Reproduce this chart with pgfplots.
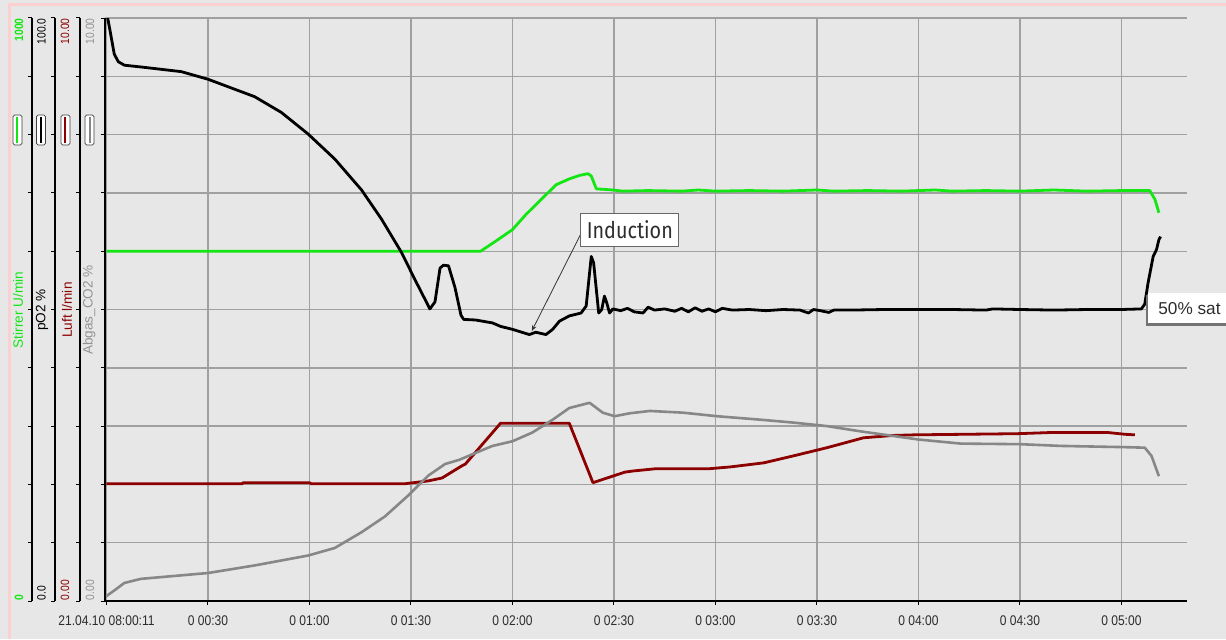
\documentclass[border=0pt]{standalone}
\usepackage{pgfplots}
\pgfplotsset{compat=1.18}
\usepackage{pgfplotstable}
\usepackage{fontspec}
\usetikzlibrary{arrows.meta}
\setmainfont{Liberation Sans}
\newfontfamily\narrowfont[FakeStretch=0.86]{Liberation Sans}
\newfontfamily\callfont[FakeStretch=0.86]{Fira Sans}

\definecolor{bg}{RGB}{231,231,231}
\definecolor{gridc}{RGB}{160,160,160}
\definecolor{stirc}{RGB}{20,230,20}
\definecolor{luftc}{RGB}{140,0,0}
\definecolor{co2c}{RGB}{135,135,135}
\definecolor{pinkc}{RGB}{250,208,208}
\definecolor{txt}{RGB}{45,45,45}

% time in minutes after 08:00:11
\pgfplotstableread{
t v
0 600
110.6 600
115 617
120 637
124 663
128.9 691
132.9 714
136.8 724
139.8 730
142.3 733
143.3 729
144.8 707
149.7 705
152.6 703
160 704
170 703
175 705
180 703
190 704
200 703
210 705
215 703
225 704
235 703
245 705
250 703
260 704
270 703
280 705
290 703
300 704
308.4 704
309.9 689
311.1 666
}\stirrer

\pgfplotstableread{
t v
0 100
0.35 100
1 98
2.3 93.8
3.5 92.5
5.3 91.9
10.2 91.6
22.1 90.8
30 89.5
43.8 86.5
51.7 83.8
59.6 80.1
67.5 75.8
75.4 70.5
81.3 65.5
87.2 59.8
91.2 55.1
95.6 50.1
97.1 51.3
98.6 57.1
99.6 57.6
101.1 57.5
103 53.8
104.8 49
105.6 48.3
109.1 48.2
114.1 47.7
116.5 47.1
120 46.6
125 45.7
126.9 46.1
129.9 45.7
131.9 46.6
133.9 48.0
136.8 48.9
140.3 49.4
141.8 50.6
142.5 54.6
143.3 59.1
144 58
144.8 53.4
145.5 49.4
146.4 50
147.2 52.3
147.9 51.1
148.7 49.4
149.7 50.1
152 49.8
154 50.2
156 49.6
158.6 49.4
160.1 50.4
162 49.9
165 50.1
168 49.7
170 50.2
172 49.6
174 50.3
176 49.7
178 50.1
180 49.6
182 50.2
185 49.9
190 50.0
195 49.8
200 50.0
205 49.9
207.5 49.4
209 50.0
211 49.8
213.5 49.5
215 49.9
220 49.9
230 50.0
250 50.0
260 49.9
262 50.1
270 50.0
280 49.9
290 50.0
300 50.0
305.9 50.1
306.9 50.9
307.9 54.6
309.4 59.1
310.4 60.3
311.1 62
311.6 62.5
}\potwo

\pgfplotstableread{
t v
0 2.01
40 2.01
40.5 2.03
60 2.03
60.5 2.01
88 2.01
95.1 2.06
99.2 2.11
104.8 2.31
106.1 2.35
116.5 3.05
136.8 3.05
143.8 2.03
153.2 2.21
155.6 2.23
162.6 2.27
178.4 2.27
184.4 2.30
194.3 2.37
203.1 2.49
213 2.63
223.8 2.80
232.7 2.84
238.7 2.85
269.3 2.87
279.2 2.89
296 2.89
301 2.86
304 2.85
}\luft

\pgfplotstableread{
t v
0 0.08
0.35 0.10
2.3 0.18
5.3 0.31
10.2 0.38
30 0.48
43.8 0.61
59.6 0.78
67.5 0.91
75.4 1.18
82.3 1.45
89.2 1.81
95.1 2.15
100.1 2.35
104.2 2.42
109.1 2.54
114.1 2.66
120 2.74
125.9 2.89
131.9 3.11
136.8 3.31
142.8 3.40
146.7 3.23
150.2 3.17
154.7 3.22
160.6 3.26
170.5 3.23
180.4 3.17
193.3 3.11
203.1 3.06
213 3.00
222.9 2.91
232.7 2.83
240 2.77
252.5 2.70
270 2.69
282.2 2.66
300.3 2.64
306.9 2.63
308.9 2.49
311.1 2.14
}\cotwo

\begin{document}
\begin{tikzpicture}
\fill[bg] (-52.5pt,-19pt) rectangle (560.5pt,300.5pt);
\draw[pinkc, line width=1.2pt] (-47.8pt,-19pt) -- (-47.8pt,298.3pt) -- (560.5pt,298.3pt);

\begin{axis}[
  scale only axis, width=541pt, height=291.5pt,
  xmin=-0.44, xmax=319.4, ymin=0, ymax=10,
  axis lines=left, axis line style={-, black, line width=0.6pt},
  xtick={0,30,...,300},
  xticklabels={21.04.10 08:00:11, 0 00:30, 0 01:00, 0 01:30, 0 02:00, 0 02:30,
    0 03:00, 0 03:30, 0 04:00, 0 04:30, 0 05:00},
  ytick={0,1,...,10}, yticklabels={},
  grid=major, grid style={gridc, line width=0.7pt},
  tick align=outside, major tick length=2pt,
  tick style={black, line width=0.5pt},
  xticklabel style={font=\narrowfont\fontsize{7}{8}\selectfont, text=txt, yshift=-2pt},
  line join=round,
]
\addplot[luftc, line width=1.4pt] table[x=t, y=v] {\luft};
\addplot[co2c, line width=1.3pt] table[x=t, y=v] {\cotwo};
\addplot[stirc, line width=1.4pt] table[x=t, y expr=\thisrow{v}/100] {\stirrer};
\addplot[black, line width=1.4pt] table[x=t, y expr=\thisrow{v}/10] {\potwo};

\draw[-{Stealth[length=3pt,open]}, line width=0.4pt, black!80] (axis cs:140.6,6.34) -- (axis cs:125.7,4.63);
\node[draw=black!60, fill=white, inner xsep=3pt, minimum height=16.5pt, text=txt,
  font=\callfont\fontsize{11.5}{12}\selectfont] at (axis cs:154.7,6.37) {Induction};
\end{axis}

% extra left axes
\foreach \xx in {-36.5pt,-25pt,-12.5pt} {
  \draw[black, line width=0.6pt] (\xx,0) -- (\xx,291.5pt);
  \foreach \k in {0,...,10} \draw[black, line width=0.5pt] (\xx,\k*29.15pt) -- ++(-2pt,0);
}
% scroll handles
\foreach \cx/\cc in {-43.75pt/stirc,-32pt/black,-19.75pt/luftc,-7.75pt/co2c} {
  \draw[fill=white, draw=black!75, line width=0.4pt, rounded corners=0.8pt]
    ([xshift=-2.25pt]\cx,228pt) rectangle ([xshift=2.25pt]\cx,243pt);
  \draw[\cc, line width=1pt] (\cx,229.2pt) -- (\cx,241.8pt);
}
% axis names
\node[rotate=90, inner sep=0, text=stirc, font=\fontsize{6.8}{8}\selectfont] at (-43.5pt,145.5pt) {Stirrer U/min};
\node[rotate=90, inner sep=0, text=black, font=\fontsize{6.8}{8}\selectfont] at (-31.5pt,145.5pt) {pO2 \%};
\node[rotate=90, inner sep=0, text=luftc, font=\fontsize{6.8}{8}\selectfont] at (-19pt,145.5pt) {Luft l/min};
\node[rotate=90, inner sep=0, text=co2c!90, font=\fontsize{6.8}{8}\selectfont] at (-8pt,145.5pt) {Abgas\_CO2 \%};
% axis limits
\begin{scope}[every node/.style={rotate=90, inner sep=0, font=\narrowfont\fontsize{6}{7}\selectfont}]
\node[anchor=east, text=stirc, font=\narrowfont\bfseries\fontsize{6}{7}\selectfont] at (-43pt,291.5pt) {1000};
\node[anchor=east, text=black] at (-31.75pt,291.5pt) {100.0};
\node[anchor=east, text=luftc] at (-20pt,291.5pt) {10.00};
\node[anchor=east, text=co2c!90] at (-7.5pt,291.5pt) {10.00};
\node[anchor=west, text=stirc, font=\narrowfont\bfseries\fontsize{6}{7}\selectfont] at (-43pt,0.3pt) {0};
\node[anchor=west, text=black] at (-31.75pt,0.3pt) {0.0};
\node[anchor=west, text=luftc] at (-20pt,0.3pt) {0.00};
\node[anchor=west, text=co2c!90] at (-7.5pt,0.3pt) {0.00};
\end{scope}

% 50% sat tag
\fill[black!55] (520.3pt,137.6pt) rectangle (566pt,153pt);
\fill[white] (521.5pt,139pt) rectangle (566pt,154pt);
\node[anchor=west, inner sep=0, text=txt, font=\fontsize{8.6}{9}\selectfont] at (526.5pt,146.2pt) {50\% sat};

\pgfresetboundingbox
\path[use as bounding box] (-52.5pt,-19pt) rectangle (560.5pt,300.5pt);
\end{tikzpicture}
\end{document}
